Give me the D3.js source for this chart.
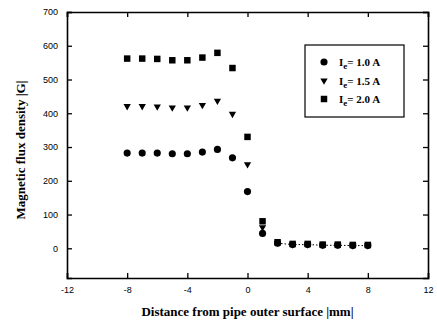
<!DOCTYPE html>
<html>
<head>
<meta charset="utf-8">
<script src="https://cdn.jsdelivr.net/npm/d3@7"></script>
<style>
  body { margin: 0; background: #fff; }
</style>
</head>
<body>
<div id="chart"></div>
<script>
// distance from pipe outer surface (mm)
const distances = [-8, -7, -6, -5, -4, -3, -2, -1, 0, 1, 2, 3, 4, 5, 6, 7, 8];
// magnetic flux density (G) for each excitation current
const fluxI10 = [282, 282, 282, 280, 280, 285, 293, 268, 168, 44, 15, 11, 11, 9, 9, 8, 8];
const fluxI15 = [421, 421, 420, 417, 417, 424, 437, 398, 249, 62, 16, 12, 12, 10, 10, 9, 9];
const fluxI20 = [562, 562, 561, 557, 557, 565, 579, 534, 330, 80, 18, 13, 13, 11, 11, 10, 10];
const seriesLabels = ['1.0 A', '1.5 A', '2.0 A'];
const xTicks = [-12, -8, -4, 0, 4, 8, 12];
const yTicks = [0, 100, 200, 300, 400, 500, 600, 700];

const width = 437, height = 326;
const margin = { top: 12, right: 9, bottom: 48, left: 67 };

const svg = d3.select('#chart').append('svg')
  .attr('width', width)
  .attr('height', height);

const x = d3.scaleLinear().domain([-12, 12]).range([margin.left, width - margin.right]);
const y = d3.scaleLinear().domain([-88, 700]).range([height - margin.bottom, margin.top]);

const tickFont = "'Liberation Sans', Arial, sans-serif";
const serif = "'Liberation Serif', 'Times New Roman', serif";

// axes with inward ticks on all four sides
const axes = [
  { ax: d3.axisBottom(x).tickValues(xTicks).tickSize(-5).tickPadding(9), t: `translate(0,${y.range()[0]})`, labels: true },
  { ax: d3.axisTop(x).tickValues(xTicks).tickSize(-5), t: `translate(0,${y.range()[1]})`, labels: false },
  { ax: d3.axisLeft(y).tickValues(yTicks).tickSize(-5).tickPadding(9), t: `translate(${x.range()[0]},0)`, labels: true },
  { ax: d3.axisRight(y).tickValues(yTicks).tickSize(-5), t: `translate(${x.range()[1]},0)`, labels: false },
];
axes.forEach(a => {
  const g = svg.append('g').attr('transform', a.t).call(a.ax.tickFormat(a.labels ? d => String(d) : ''));
  g.select('.domain').attr('stroke', '#000').attr('stroke-width', 1.6);
  g.selectAll('.tick line').attr('stroke', '#000').attr('stroke-width', 1.3);
  g.selectAll('.tick text').attr('font-family', tickFont).attr('font-size', 9).attr('fill', '#000');
});

// dotted guide through the tail of the data
const tail = distances.map((d, i) => [d, fluxI10[i]]).filter(p => p[0] >= 2);
svg.append('path')
  .datum(tail)
  .attr('fill', 'none')
  .attr('stroke', '#000')
  .attr('stroke-width', 1)
  .attr('stroke-dasharray', '1.5,2')
  .attr('d', d3.line().x(p => x(p[0])).y(p => y(p[1])));

const symbols = [d3.symbolCircle, d3.symbolTriangle2, d3.symbolSquare];
const sizes = [40, 38, 42];
const seriesData = [fluxI10, fluxI15, fluxI20];

function symbolPath(i) {
  return d3.symbol().type(symbols[i]).size(sizes[i])();
}

seriesData.forEach((vals, si) => {
  svg.append('g')
    .selectAll('path')
    .data(vals.map((v, i) => [distances[i], v]))
    .join('path')
    .attr('d', symbolPath(si))
    .attr('transform', d => `translate(${x(d[0])},${y(d[1])})${si === 1 ? ' rotate(180)' : ''}`)
    .attr('fill', '#000');
});

// legend
const legend = svg.append('g').attr('transform', 'translate(305,45)');
legend.append('rect')
  .attr('width', 99).attr('height', 72)
  .attr('fill', '#fff').attr('stroke', '#000').attr('stroke-width', 1.2);
seriesLabels.forEach((lab, i) => {
  const row = legend.append('g').attr('transform', `translate(0,${17 + i * 18.5})`);
  row.append('path')
    .attr('d', symbolPath(i))
    .attr('transform', `translate(19,0)${i === 1 ? ' rotate(180)' : ''}`)
    .attr('fill', '#000');
  const t = row.append('text')
    .attr('x', 34).attr('y', 4)
    .attr('font-family', serif).attr('font-weight', 'bold').attr('font-size', 11);
  t.append('tspan').text('I');
  t.append('tspan').attr('font-size', 9).attr('dy', 3).text('e');
  t.append('tspan').attr('dy', -3).text('= ' + lab);
});

// axis titles
svg.append('text')
  .attr('x', (x.range()[0] + x.range()[1]) / 2)
  .attr('y', 316)
  .attr('text-anchor', 'middle')
  .attr('font-family', serif).attr('font-weight', 'bold').attr('font-size', 13)
  .text('Distance from pipe outer surface |mm|');

svg.append('text')
  .attr('transform', 'translate(25,150) rotate(-90)')
  .attr('text-anchor', 'middle')
  .attr('font-family', serif).attr('font-weight', 'bold').attr('font-size', 13)
  .text('Magnetic flux density |G|');
</script>
</body>
</html>
